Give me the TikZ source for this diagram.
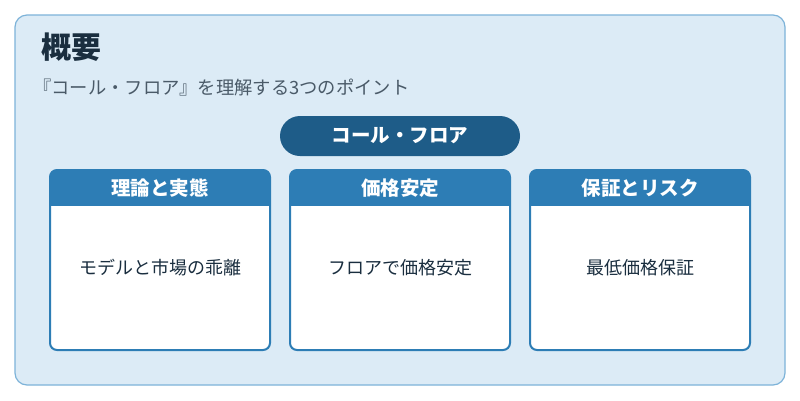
\documentclass[tikz,border=0pt]{standalone}
\usepackage{fontspec}
\setmainfont{Noto Sans CJK JP}
\definecolor{bgc}{HTML}{DCEBF6}
\definecolor{bdc}{HTML}{7DB3D9}
\definecolor{hdr}{HTML}{2D7DB5}
\definecolor{pill}{HTML}{1E5C88}
\definecolor{ttl}{HTML}{1A2E3F}
\definecolor{sub}{HTML}{4A5A68}
\tikzset{
 hd/.style={text=white,font=\fontsize{19.5}{22}\selectfont\bfseries},
 bd/.style={text=ttl,font=\fontsize{18}{20}\selectfont},
}
\begin{document}
\begin{tikzpicture}[x=1pt,y=-1pt]
\useasboundingbox (0,0) rectangle (800,400);
\fill[white] (0,0) rectangle (800,400);
\draw[bdc,fill=bgc,line width=1.2pt,rounded corners=12] (15,15) rectangle (785,385);
\node[anchor=west,inner sep=0pt,text=ttl,font=\fontsize{30}{32}\selectfont\bfseries] (t) at (41,47) {概要};
\node[anchor=west,inner sep=0pt,text=sub,font=\fontsize{18.3}{20}\selectfont] (s) at (33,88) {『コール・フロア』を理解する3つのポイント};
\node[fill=pill,rounded corners=20,minimum width=240pt,minimum height=40pt,hd] (p) at (400,136) {コール・フロア};
\foreach \x/\h/\b/\n in {50/理論と実態/モデルと市場の乖離/a,290/価格安定/フロアで価格安定/b,530/保証とリスク/最低価格保証/c}{
 \begin{scope}
 \clip[rounded corners=7] (\x,170) rectangle (\x+220,350);
 \fill[white] (\x,170) rectangle (\x+220,350);
 \fill[hdr] (\x,170) rectangle (\x+220,206);
 \end{scope}
 \draw[hdr,line width=2pt,rounded corners=7] (\x,170) rectangle (\x+220,350);
 \node[hd] (h\n) at (\x+110,188) {\h};
 \node[bd] (b\n) at (\x+110,268) {\b};
}
\end{tikzpicture}
\end{document}
